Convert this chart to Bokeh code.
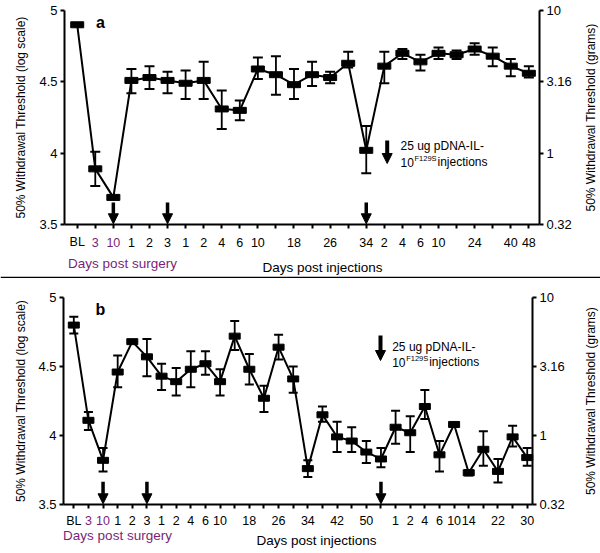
import math
from bokeh.plotting import figure
from bokeh.models import (ColumnDataSource, Whisker, TeeHead, Arrow, NormalHead, Label,
                          LabelSet, FixedTicker, LinearAxis, Range1d, Span)
from bokeh.core.properties import value
from bokeh.layouts import column
from bokeh.embed import file_html
from bokeh.resources import INLINE

FONT = "Liberation Sans"
PURPLE = "#7b1f78"

# ---------------- data: panel a ----------------
a_mean = [4.90, 3.89, 3.69, 4.51, 4.53, 4.51, 4.49, 4.51, 4.31, 4.30, 4.59, 4.55, 4.48,
          4.55, 4.53, 4.63, 4.02, 4.61, 4.70, 4.64, 4.70, 4.69, 4.73, 4.68, 4.61, 4.56]
a_upper = [4.91, 4.01, 3.70, 4.59, 4.61, 4.57, 4.58, 4.64, 4.44, 4.37, 4.67, 4.68, 4.59,
           4.64, 4.57, 4.71, 4.19, 4.71, 4.73, 4.69, 4.74, 4.72, 4.77, 4.74, 4.66, 4.61]
a_lower = [4.89, 3.77, 3.68, 4.42, 4.45, 4.42, 4.38, 4.38, 4.17, 4.23, 4.52, 4.41, 4.38,
           4.47, 4.49, 4.60, 3.86, 4.49, 4.66, 4.58, 4.66, 4.66, 4.69, 4.61, 4.54, 4.53]
a_tick_idx = [0, 1, 2, 3, 4, 5, 6, 7, 8, 9, 10, 12, 14, 16, 17, 18, 19, 20, 22, 24, 25]
a_tick_lab = ["BL", "3", "10", "1", "2", "3", "1", "2", "4", "6", "10", "18", "26", "34",
              "2", "4", "6", "10", "24", "40", "48"]
a_inject = [2, 5, 16]

# ---------------- data: panel b ----------------
b_mean = [4.80, 4.11, 3.82, 4.46, 4.68, 4.57, 4.43, 4.39, 4.48, 4.52, 4.39, 4.72, 4.48,
          4.27, 4.64, 4.41, 3.76, 4.15, 3.99, 3.96, 3.88, 3.83, 4.06, 4.02, 4.21, 3.86,
          4.08, 3.73, 3.90, 3.74, 3.99, 3.84]
b_upper = [4.86, 4.17, 3.91, 4.58, 4.69, 4.70, 4.52, 4.49, 4.61, 4.61, 4.48, 4.83, 4.59,
           4.36, 4.73, 4.50, 3.82, 4.21, 4.10, 4.06, 3.96, 3.91, 4.18, 4.14, 4.33, 3.96,
           4.09, 3.75, 4.03, 3.83, 4.07, 3.91]
b_lower = [4.74, 4.04, 3.74, 4.35, 4.67, 4.43, 4.33, 4.29, 4.35, 4.44, 4.29, 4.62, 4.37,
           4.17, 4.55, 4.31, 3.70, 4.10, 3.88, 3.88, 3.80, 3.77, 3.94, 3.88, 4.12, 3.74,
           4.07, 3.71, 3.78, 3.66, 3.92, 3.78]
b_tick_idx = [0, 1, 2, 3, 4, 5, 6, 7, 8, 9, 10, 12, 14, 16, 18, 20, 22, 23, 24, 25, 26,
              27, 29, 31]
b_tick_lab = ["BL", "3", "10", "1", "2", "3", "1", "2", "4", "6", "10", "18", "26", "34",
              "42", "50", "1", "2", "4", "6", "10", "14", "22", "30"]
b_inject = [2, 5, 21]

surgery_colored = [1, 2]    # positions (within label list) drawn in purple
left_ticks = [3.5, 4.0, 4.5, 5.0]
left_labels = ["3.5", "4", "4.5", "5"]
right_labels = ["0.32", "1", "3.16", "10"]

left_title = "50% Withdrawal Threshold (log scale)"
right_title = "50% Withdrawal Threshold (grams)"
legend_1 = "25 ug pDNA-IL-"
legend_2a = "10"
legend_sup = "F129S"
legend_2b = "injections"

W = 600


def make_panel(letter, mean, upper, lower, tick_idx, tick_lab, inject, g, sep=False):
    n = len(mean)
    xs = list(range(n))
    H = g["H"]
    L, R, T, B = g["L"], g["R"], g["T"], g["B"]
    xl, xr = -0.704, n - 1 + g["xr"]
    dx = (xr - xl) / (R - L)
    dy = 1.5 / (B - T)
    p = figure(width=W, height=H,
               x_range=Range1d(xl - L * dx, xr + (W - R) * dx),
               y_range=Range1d(3.5 - (H - B) * dy, 5.0 + T * dy),
               toolbar_location=None, output_backend="svg", min_border=0)
    p.outline_line_color = None
    p.grid.visible = False
    p.background_fill_color = "white"

    def style(ax):
        ax.axis_line_width = 2
        ax.axis_line_color = "black"
        ax.major_tick_line_width = 2
        ax.major_tick_out = 4
        ax.major_tick_in = 0
        ax.minor_tick_line_color = None
        ax.major_label_text_font = FONT
        ax.major_label_text_font_size = "13px"
        ax.major_label_text_color = "black"
        ax.major_label_standoff = 3

    xa = p.xaxis[0]
    xa.ticker = FixedTicker(ticks=xs)
    xa.major_label_overrides = {i: "" for i in xs}
    style(xa)
    xa.major_label_text_font_size = "1px"
    xa.fixed_location = 3.5
    xa.bounds = (xl, xr)

    ya = p.yaxis[0]
    ya.ticker = FixedTicker(ticks=left_ticks)
    ya.major_label_overrides = dict(zip(left_ticks, left_labels))
    style(ya)
    ya.fixed_location = xl
    ya.bounds = (3.5, 5.0)

    ra = LinearAxis(ticker=FixedTicker(ticks=left_ticks),
                    major_label_overrides=dict(zip(left_ticks, right_labels)),
                    fixed_location=xr, bounds=(3.5, 5.0))
    style(ra)
    p.add_layout(ra, "right")

    src = ColumnDataSource(dict(x=xs, m=mean, up=upper, lo=lower))
    wk = Whisker(base="x", upper="up", lower="lo", source=src, dimension="height",
                 line_width=1.8, line_color="black", level="underlay",
                 upper_head=TeeHead(size=g["cap"], line_width=2, line_color="black"),
                 lower_head=TeeHead(size=g["cap"], line_width=2, line_color="black"))
    p.add_layout(wk)
    p.line("x", "m", source=src, line_width=2, line_color="black")
    p.rect("x", "m", width=g["mw"], height=6, width_units="screen", height_units="screen",
           source=src, fill_color="black", line_color="black")

    # injection arrows
    for xi in inject:
        p.add_layout(Arrow(x_start=xi, x_end=xi, y_start=3.5 + g["alen"], y_end=3.505,
                           line_width=3.5, line_color="black",
                           end=NormalHead(size=10, fill_color="black", line_color="black")))

    # x tick labels (screen y measured from canvas bottom)
    cols = ["black"] * len(tick_lab)
    for k in surgery_colored:
        cols[k] = PURPLE
    ls = ColumnDataSource(dict(x=tick_idx, t=tick_lab, c=cols))
    p.add_layout(LabelSet(x="x", y=H - g["ty"], y_units="screen", text="t", source=ls,
                          text_color="c", text_align="center", text_baseline="middle",
                          text_font=value(FONT), text_font_size="12.5px"))

    def lab(px, py, text, **kw):
        opts = dict(x=px, y=H - py, x_units="screen", y_units="screen", text=text,
                    text_font=FONT, text_font_size="12px", text_color="black",
                    text_align="center", text_baseline="middle")
        opts.update(kw)
        p.add_layout(Label(**opts))

    lab(g["surg"][0], g["surg"][1], "Days post surgery", text_color=PURPLE,
        text_font_size="13.5px")
    lab(g["inj"][0], g["inj"][1], "Days post injections", text_font_size="13.5px")
    lab(g["lt"], (T + B) / 2, left_title, angle=math.pi / 2)
    lab(g["rt"], (T + B) / 2, right_title, angle=math.pi / 2)
    lab(g["let"][0], g["let"][1], letter, text_font_size="16px", text_font_style="bold")

    # legend
    ax_, y1, y2 = g["leg_arrow"]
    p.add_layout(Arrow(x_start=ax_, x_end=ax_, y_start=H - y1, y_end=H - y2,
                       start_units="screen", end_units="screen", line_width=4,
                       line_color="black",
                       end=NormalHead(size=10, fill_color="black", line_color="black")))
    tx, ty1, ty2 = g["leg_text"]
    lab(tx, ty1, legend_1, text_align="left")
    lab(tx, ty2, legend_2a, text_align="left")
    lab(tx + 14, ty2 - 4, legend_sup, text_align="left", text_font_size="7.5px")
    lab(tx + 37, ty2, legend_2b, text_align="left")

    if sep:
        p.add_layout(Span(location=1, location_units="screen", dimension="width",
                          line_color="black", line_width=1.6))
    return p


# geometry in canvas pixels (top-left origin) of each figure
ga = dict(H=278, L=64, R=539, T=10, B=224, xr=0.59, cap=10, mw=13, alen=0.155, ty=241.7,
          surg=(122, 263), inj=(322, 266.5), lt=20, rt=590, let=(100, 21.7),
          leg_arrow=(386.7, 140, 163), leg_text=(400, 145, 161.7))
gb = dict(H=275, L=63, R=532, T=19, B=226, xr=0.36, cap=9, mw=11, alen=0.165, ty=242,
          surg=(117, 257), inj=(316, 262), lt=20, rt=590, let=(100, 31),
          leg_arrow=(380, 57, 82), leg_text=(391.7, 68.7, 83.7))

pa = make_panel("a", a_mean, a_upper, a_lower, a_tick_idx, a_tick_lab, a_inject, ga, sep=True)
pb = make_panel("b", b_mean, b_upper, b_lower, b_tick_idx, b_tick_lab, b_inject, gb)

layout = column(pa, pb, spacing=0)
open("out.html", "w").write(file_html(layout, INLINE))
